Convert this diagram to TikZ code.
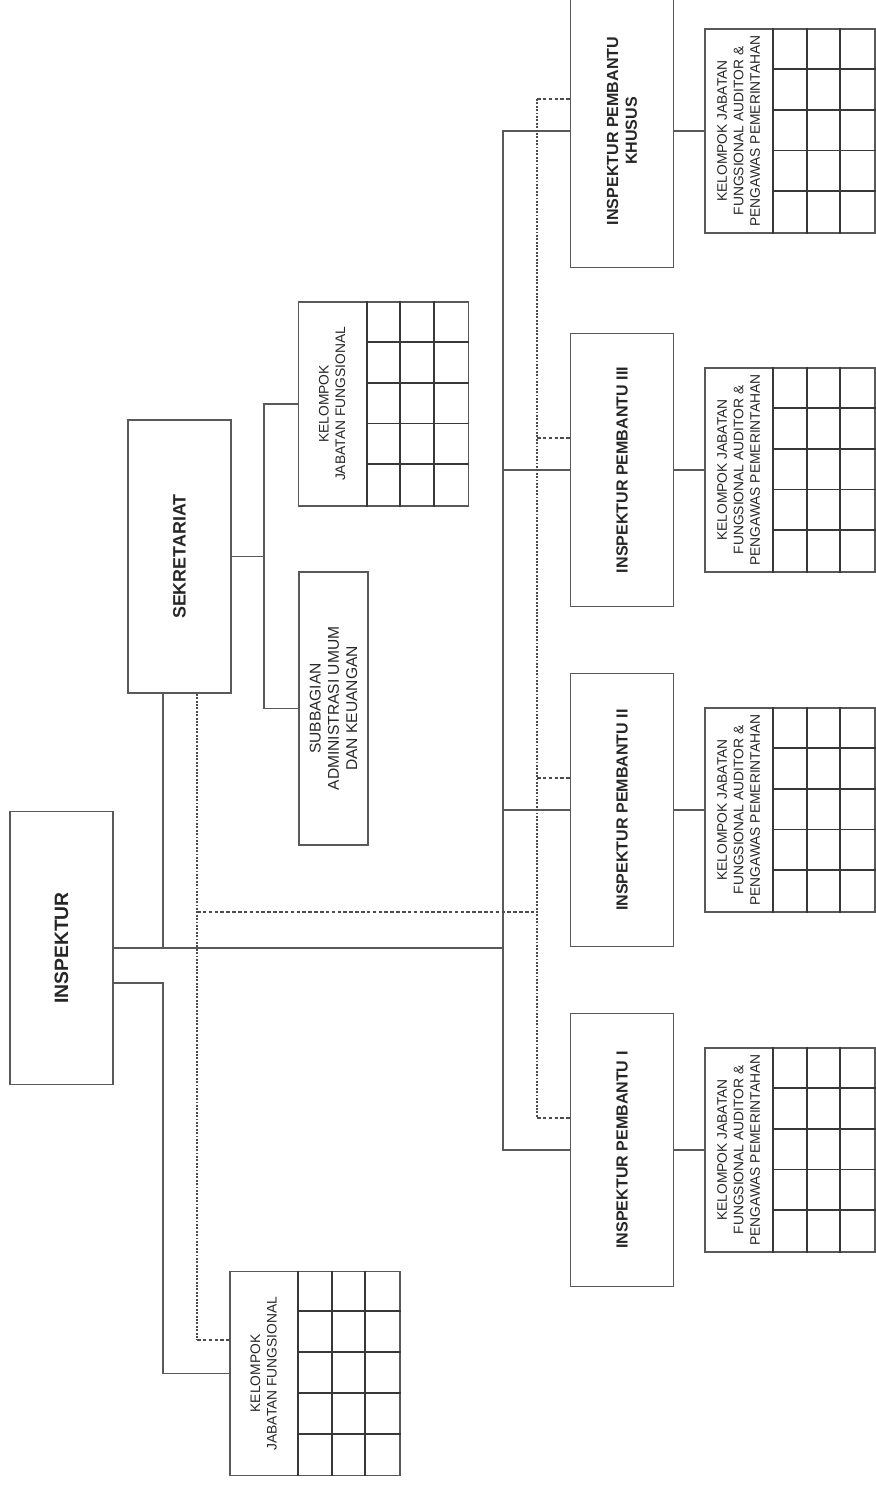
\documentclass[tikz,border=0pt]{standalone}
\usepackage{fontspec}
\setmainfont{Liberation Sans}
\usetikzlibrary{calc}

\begin{document}
\begin{tikzpicture}[x=0.03cm,y=-0.03cm,
  box/.style={draw=black!65,line width=1.5pt,minimum width=3.09cm,minimum height=8.19cm,inner sep=0pt},
  grp/.style={draw=black!65,line width=1.5pt,minimum width=5.1cm,minimum height=6.12cm,inner sep=0pt},
  lbl/.style={rotate=90,align=center,text=black!85,inner sep=0pt},
  ipname/.style={lbl,font=\bfseries\fontsize{13.7}{16}\selectfont},
  grptext/.style={lbl,font=\fontsize{11.8}{14}\selectfont},
  link/.style={black!65,line width=1.5pt},
  adv/.style={black!70,line width=1.4pt,dash pattern=on 3pt off 2pt},
  advv/.style={black!70,line width=1.6pt,dash pattern=on 1.6pt off 1.3pt}]
\useasboundingbox (0,0) rectangle (876,1489);

% boxes
\node[box] (insp) at (61.5,948) {};
\node[box] (sek) at (179.5,556.5) {};
\node[box,minimum width=2.07cm] (sub) at (333.5,708.5) {};
\node[box] (ipk) at (622,131) {};
\node[box] (ip3) at (622,470) {};
\node[box] (ip2) at (622,810) {};
\node[box] (ip1) at (622,1150) {};

% kelompok jabatan fungsional
\node[grp] (ksek) at (383.5,404) {};
\node[grp] (kl) at (315,1373.5) {};
\node[grp] (kk) at (790,131) {};
\node[grp] (k3) at (790,470) {};
\node[grp] (k2) at (790,810) {};
\node[grp] (k1) at (790,1150) {};
\foreach \g in {kl,ksek,k1,k2,k3,kk} {
  \foreach \c in {69,102.7,136.3}
    \draw[black!78,line width=1.6pt] ($(\g.north west)+(\c,0)$) -- ($(\g.south west)+(\c,0)$);
  \foreach \r in {1,...,4}
    \draw[black!78,line width=1.6pt] ($(\g.north west)+(69,\r*40.8)$) -- ($(\g.north east)+(0,\r*40.8)$);
}

% labels
\node[lbl,font=\bfseries\fontsize{16.5}{19}\selectfont] (insp-t) at (insp) {INSPEKTUR};
\node[lbl,font=\bfseries\fontsize{15.3}{18}\selectfont] (sek-t) at (sek) {SEKRETARIAT};
\node[lbl,font=\fontsize{13.3}{15.5}\selectfont] (sub-t) at (sub) {SUBBAGIAN\\ADMINISTRASI UMUM\\DAN KEUANGAN};
\node[ipname] (ipk-t) at (ipk) {INSPEKTUR PEMBANTU\\KHUSUS};
\node[ipname] (ip3-t) at (ip3) {INSPEKTUR PEMBANTU III};
\node[ipname] (ip2-t) at (ip2) {INSPEKTUR PEMBANTU II};
\node[ipname] (ip1-t) at (ip1) {INSPEKTUR PEMBANTU I};
\node[grptext] (ksek-t) at ($(ksek.west)+(34.5,0)$) {KELOMPOK\\JABATAN FUNGSIONAL};
\node[grptext] (kl-t) at ($(kl.west)+(34.5,0)$) {KELOMPOK\\JABATAN FUNGSIONAL};
\foreach \i in {1,2,3,k}
  \node[grptext] (k\i-t) at ($(k\i.west)+(34.5,0)$) {KELOMPOK JABATAN\\FUNGSIONAL AUDITOR \&\\PENGAWAS PEMERINTAHAN};

% garis komando
\coordinate (bus) at (503,948);
\coordinate (sj) at (163,948);
\coordinate (lj) at (163,983);
\coordinate (sb) at (264,556.5);
\draw[link] (insp.east) -- (bus);
\draw[link] (sj) -- (sj |- sek.south);
\draw[link] (bus) |- (ip1.west);
\draw[link] (bus) |- (ipk.west);
\draw[link] (bus |- ip2.west) -- (ip2.west);
\draw[link] (bus |- ip3.west) -- (ip3.west);
\draw[link] (insp.east |- lj) -- (lj) |- (kl.west);
\draw[link] (sek.east) -- (sb);
\draw[link] (sb) |- (ksek.west);
\draw[link] (sb) |- (sub.west);
\foreach \i in {1,2,3,k}
  \draw[link] (ip\i.east) -- (k\i.west);

% garis koordinasi
\coordinate (dj) at (197,912);
\coordinate (dbus) at (537,912);
\coordinate (kl-d) at ($(kl.west)+(0,-33.5)$);
\foreach \i in {1,2,3,k}
  \coordinate (ip\i-d) at ($(ip\i.west)+(0,-32)$);
\draw[advv] (sek.south -| dj) -- (dj |- kl-d);
\draw[adv] (dj |- kl-d) -- (kl-d);
\draw[adv] (dj) -- (dbus);
\draw[advv] (dbus |- ipk-d) -- (dbus |- ip1-d);
\foreach \i in {1,2,3,k}
  \draw[adv] (dbus |- ip\i-d) -- (ip\i-d);
\end{tikzpicture}
\end{document}
